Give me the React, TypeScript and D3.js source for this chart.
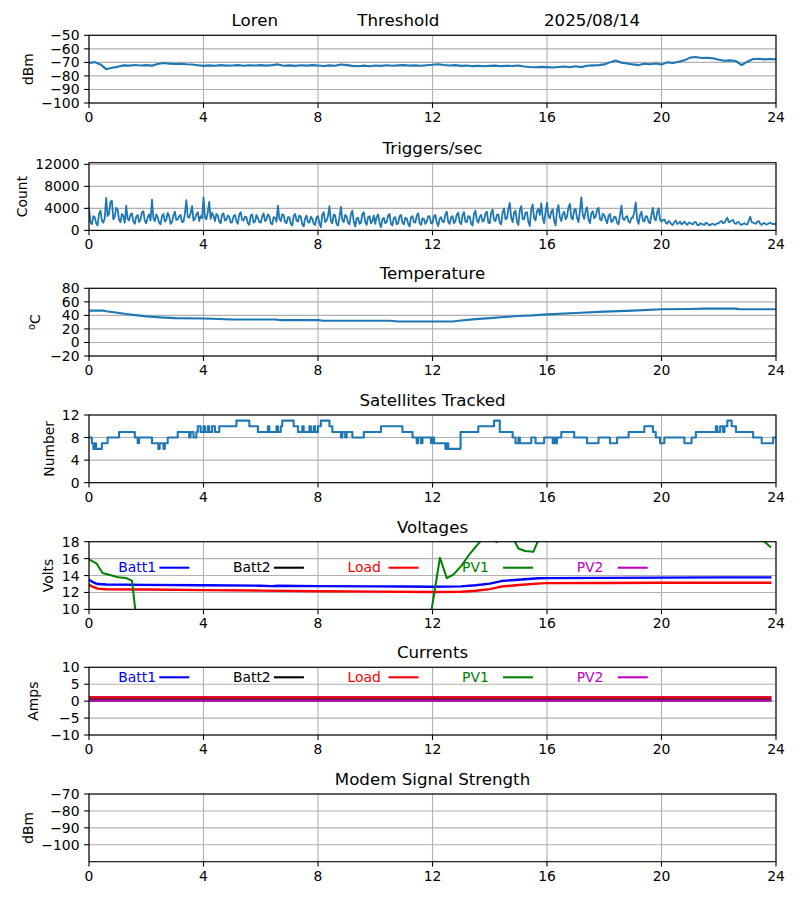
import React from "react";
import * as d3 from "d3";

// ---------- data ----------
const X_TICKS = [0, 4, 8, 12, 16, 20, 24];

const THRESH_STEP = 0.2;
const threshold = [
  -70.5, -69.8, -71.5, -75.0, -74.0, -73.3, -72.2, -72.4, -71.9, -72.3,
  -72.0, -72.4, -71.2, -70.5, -70.9, -71.2, -71.0, -71.4, -71.6, -72.1,
  -72.6, -72.2, -72.5, -72.0, -72.4, -72.3, -72.0, -72.5, -72.1, -72.3,
  -72.0, -72.4, -72.0, -71.5, -72.5, -72.2, -72.6, -72.1, -72.4, -72.0,
  -72.3, -72.7, -72.2, -72.5, -71.6, -72.0, -72.6, -72.9, -72.4, -72.8,
  -72.3, -72.6, -72.1, -72.5, -72.2, -72.0, -72.4, -72.2, -72.5, -72.1,
  -71.8, -71.4, -71.9, -72.3, -72.0, -72.6, -72.3, -72.8, -72.5, -72.9,
  -72.6, -72.4, -72.8, -72.5, -72.7, -72.3, -73.0, -73.4, -73.6, -73.3,
  -73.5, -73.8, -73.4, -73.0, -73.6, -72.8, -73.5, -72.5, -72.2, -72.0,
  -71.5, -70.0, -68.6, -70.2, -70.8, -71.5, -72.0, -71.0, -71.4, -70.8,
  -71.5, -70.0, -70.5, -69.5, -68.5, -66.5, -66.0, -66.8, -66.7, -67.0,
  -68.0, -68.8, -68.5, -69.0, -72.0, -69.5, -67.5, -67.3, -67.8, -67.5,
  -67.8,
];

const TRIG_STEP = 0.05;
const triggers = [
  4200, 1500, 1100, 2600, 2400, 1300, 900, 3000, 3600, 1800, 1400, 2200, 5900, 2600, 3000, 5200, 5400, 2000, 2500, 4100,
  3800, 1900, 1500, 3000, 2600, 1400, 4500, 2100, 1800, 2900, 3100, 1600, 1200, 2500, 2800, 1500, 2000, 3300, 3500, 1700,
  1300, 2400, 2900, 1800, 5600, 2200, 1700, 2900, 2400, 1400, 1100, 2600, 3000, 1600, 1900, 3200, 2600, 1200, 1500, 2700,
  3400, 1900, 2000, 2600, 2800, 1500, 1600, 3000, 5500, 2500, 2300, 3100, 4400, 1800, 2100, 2900, 3300, 1700, 2600, 2200,
  6000, 2400, 2000, 3300, 5200, 2100, 3200, 2600, 1700, 3000, 2700, 1600, 1300, 2900, 3100, 1800, 1900, 2700, 2500, 1400,
  1500, 2600, 2800, 1700, 1200, 2900, 3300, 1900, 1800, 2500, 2400, 1300, 1000, 2700, 2900, 1400, 1600, 2800, 2200, 1500,
  1400, 2500, 3100, 1700, 2000, 2900, 2600, 1300, 1100, 2400, 2300, 1600, 4500, 2200, 1700, 2900, 2800, 1500, 1300, 2400,
  2400, 1200, 900, 2600, 3000, 1800, 1600, 2700, 2500, 1100, 700, 2200, 2700, 1500, 1400, 2500, 2100, 1200, 1000, 2400,
  2600, 1300, 600, 2900, 3300, 1500, 1800, 2600, 4400, 1700, 1300, 2900, 2700, 1100, 900, 2400, 4300, 1900, 1500, 2800,
  2500, 1400, 1100, 2900, 3600, 1600, 700, 2200, 2300, 1200, 1400, 3000, 3300, 1500, 1000, 2400, 2600, 1300, 1700, 2700,
  1200, 2500, 2900, 1400, 600, 2000, 2300, 1300, 1500, 2700, 3000, 1200, 900, 2300, 2400, 1100, 1300, 2600, 2800, 1400,
  1100, 2300, 2200, 1200, 700, 2400, 2600, 1500, 1400, 2700, 3100, 1300, 1000, 2200, 2100, 1200, 1600, 2600, 2500, 1300,
  1300, 2600, 2800, 1400, 800, 2100, 2400, 1600, 1500, 2900, 3400, 1500, 1200, 2400, 2600, 1300, 1700, 2900, 3200, 1500,
  1100, 2800, 3300, 1600, 1500, 2600, 2500, 1200, 900, 3000, 3600, 1800, 1400, 2500, 2800, 1600, 1800, 3100, 3400, 1400,
  1300, 3200, 3800, 1900, 1700, 2800, 2900, 1400, 1100, 3300, 4000, 2000, 2200, 3800, 5000, 2300, 1500, 3200, 3600, 1600,
  1000, 3700, 4400, 2100, 2000, 3200, 3300, 1500, 800, 3900, 4700, 2200, 1800, 3500, 3900, 2800, 4900, 2300, 1300, 3400,
  5000, 2600, 2200, 3400, 3800, 1700, 900, 3600, 4600, 2400, 1700, 3000, 3400, 2000, 2500, 4200, 4800, 2300, 2000, 3700,
  3900, 2200, 1500, 3600, 6000, 2800, 2100, 3500, 4200, 2000, 1300, 3100, 3500, 2200, 2500, 3800, 4100, 2100, 1800, 3000,
  2800, 1900, 1300, 2600, 3000, 1500, 1700, 2500, 2400, 1400, 1100, 2800, 4500, 2100, 1900, 2400, 2600, 1600, 1400, 2300,
  2300, 3400, 5100, 2000, 1200, 2800, 3400, 1800, 1600, 2600, 2500, 1500, 1300, 2900, 4100, 2200, 1800, 3300, 4000, 1900,
  1600, 1900, 2000, 1400, 1200, 1700, 1500, 1100, 1000, 1500, 1800, 1200, 1300, 1600, 1100, 1300, 1600, 1200, 1000, 1400,
  1400, 1200, 1100, 1500, 1500, 1000, 900, 1300, 1200, 1100, 1000, 1400, 1300, 1000, 900, 1200, 1200, 1000, 1100, 1300,
  1300, 1600, 1700, 1300, 1400, 1900, 2300, 1500, 1600, 1800, 1900, 1300, 1200, 1500, 1500, 1100, 1000, 1200, 1300, 1100,
  1100, 1800, 2500, 1500, 1400, 1300, 1200, 1600, 1700, 1200, 1000, 1300, 1300, 1100, 1100, 1300, 1400, 1200, 1200, 1100,
  1300,
];

const tempTimes = [0, 0.5, 0.6, 1.0, 1.3, 1.7, 2.0, 2.5, 3.0, 4.0, 4.3, 5.0, 6.5, 6.7, 8.0, 8.2, 10.5, 10.8, 12.7, 13.0, 13.5, 14.0, 14.5, 15.0, 15.5, 16.0, 17.0, 18.0, 19.0, 20.0, 21.0, 21.5, 22.6, 22.7, 24.0];
const tempValues = [47, 47, 46, 44, 42, 40, 38.5, 37, 36, 35.5, 35, 34, 34, 33, 33, 32, 32, 31, 31, 32.5, 34.5, 36, 37.5, 39, 40, 41.5, 43.5, 45.5, 47, 49, 49.5, 50, 50, 49, 49];

const satTimes = [0, 0.1, 0.15, 0.2, 0.25, 0.45, 0.65, 1.05, 1.6, 1.7, 1.75, 2.2, 2.42, 2.47, 2.6, 2.65, 2.75, 3.1, 3.5, 3.55, 3.65, 3.75, 3.8, 3.9, 4.0, 4.05, 4.15, 4.2, 4.3, 4.4, 4.55, 5.15, 5.6, 5.9, 6.25, 6.3, 6.55, 6.6, 6.7, 6.75, 7.15, 7.3, 7.45, 7.5, 7.7, 7.75, 7.85, 7.9, 8.0, 8.1, 8.4, 8.5, 8.8, 8.85, 8.95, 9.0, 9.2, 9.6, 10.2, 10.95, 11.3, 11.45, 11.5, 11.6, 11.65, 11.95, 12.0, 12.05, 12.45, 12.5, 12.55, 12.98, 13.6, 14.15, 14.35, 14.8, 14.9, 15.0, 15.05, 15.45, 15.6, 15.9, 16.2, 16.25, 16.3, 16.35, 16.5, 16.95, 17.4, 17.8, 18.2, 18.45, 18.85, 19.4, 19.7, 19.8, 19.95, 20.1, 20.8, 21.05, 21.2, 21.9, 21.95, 22.05, 22.15, 22.2, 22.3, 22.45, 22.6, 23.2, 23.5, 23.9, 24];
const satValues = [8, 7, 6, 7, 6, 7, 8, 9, 8, 7, 8, 7, 6, 7, 6, 7, 8, 9, 8, 9, 8, 9, 10, 9, 10, 9, 10, 9, 10, 9, 10, 11, 10, 9, 10, 9, 10, 9, 10, 11, 10, 9, 10, 9, 10, 9, 10, 9, 10, 11, 10, 9, 8, 9, 8, 9, 8, 9, 10, 9, 8, 7, 8, 7, 8, 7, 8, 7, 6, 7, 6, 9, 10, 11, 9, 8, 7, 8, 7, 8, 7, 8, 7, 8, 7, 8, 9, 8, 7, 8, 7, 8, 9, 10, 9, 8, 7, 8, 7, 8, 9, 10, 9, 10, 9, 10, 11, 10, 9, 8, 7, 8, 8];

const voltBatt1Times = [0, 0.15, 0.3, 0.6, 2, 4, 6, 6.4, 6.6, 8, 10, 11, 12, 13, 13.5, 14, 14.4, 15, 15.7, 16, 18, 20, 22, 23.8];
const voltBatt1 = [13.5, 13.2, 13.0, 12.95, 12.9, 12.85, 12.8, 12.75, 12.8, 12.75, 12.72, 12.7, 12.68, 12.72, 12.85, 13.05, 13.35, 13.5, 13.68, 13.7, 13.72, 13.75, 13.78, 13.78];
const voltBatt2Times = [0, 23.8];
const voltBatt2 = [0, 0];
const voltLoadTimes = [0, 0.15, 0.3, 0.6, 2, 4, 6, 8, 10, 12, 13, 13.5, 14, 14.4, 15, 15.8, 16, 18, 20, 22, 23.8];
const voltLoad = [12.9, 12.65, 12.45, 12.38, 12.35, 12.28, 12.22, 12.15, 12.1, 12.05, 12.08, 12.2, 12.4, 12.7, 12.88, 13.08, 13.1, 13.12, 13.15, 13.15, 13.15];
const voltPV1Times = [0, 0.27, 0.47, 0.8, 1.02, 1.3, 1.5, 1.65, 2.0, 11.5, 11.95, 12.26, 12.5, 12.73, 13.02, 13.31, 13.66, 13.9, 14.1, 14.25, 14.45, 14.7, 14.88, 15.0, 15.23, 15.52, 15.7, 16, 18, 20, 22, 23.5, 23.8];
const voltPV1 = [15.9, 15.4, 14.3, 14.0, 13.8, 13.7, 13.4, 9.0, 0, 0, 9.6, 16.1, 13.7, 14.1, 15.2, 16.6, 18, 18.6, 18.3, 17.95, 18.6, 18.4, 18, 17.2, 16.9, 16.8, 18.2, 19, 20, 19.5, 19, 18.3, 17.4];
const voltPV2Times = [0, 23.8];
const voltPV2 = [0, 0];

const currTimes = [0, 23.8];
const currBatt1 = [1.1, 1.1];
const currBatt2 = [0.5, 0.5];
const currLoad = [1.1, 1.1];
const currPV1 = [0.15, 0.15];
const currPV2 = [0.15, 0.15];

const legendNames = ["Batt1", "Batt2", "Load", "PV1", "PV2"];
const legendColors = ["#0000ff", "#000000", "#ff0000", "#008000", "#bf00bf"];

// ---------- layout ----------
const LEFT = 89;
const RIGHT = 776;
const PH = 67.7;
const FONT = "DejaVu Sans, sans-serif";
const BLUE = "#1f77b4";
const GRID = "#b0b0b0";

const x = d3.scaleLinear().domain([0, 24]).range([LEFT, RIGHT]);

const fmt = (v: number) => (v < 0 ? "\u2212" + Math.abs(v) : String(v));

type Series = { t: number[]; v: number[]; color: string; width: number; step?: boolean };

function Panel(props: {
  id: string;
  top: number;
  domain: [number, number];
  ticks: number[];
  title: string;
  ylabel: React.ReactNode;
  ylabelX: number;
  series: Series[];
  legendY?: number;
}) {
  const { id, top, domain, ticks, title, ylabel, ylabelX, series, legendY } = props;
  const bottom = top + PH;
  const y = d3.scaleLinear().domain(domain).range([bottom, top]);
  const cx = (LEFT + RIGHT) / 2;
  return (
    <g>
      <defs>
        <clipPath id={"clip-" + id}>
          <rect x={LEFT} y={top} width={RIGHT - LEFT} height={PH} />
        </clipPath>
      </defs>
      {X_TICKS.map((t) => (
        <line key={"gx" + t} x1={x(t)} x2={x(t)} y1={top} y2={bottom} stroke={GRID} strokeWidth={1.1} />
      ))}
      {ticks.map((t) => (
        <line key={"gy" + t} x1={LEFT} x2={RIGHT} y1={y(t)} y2={y(t)} stroke={GRID} strokeWidth={1.1} />
      ))}
      <g clipPath={`url(#clip-${id})`}>
        {series.map((s, i) => {
          const pts = s.t.map((t, k) => [t, s.v[k]] as [number, number]);
          const gen = d3
            .line<[number, number]>()
            .x((d) => x(d[0]))
            .y((d) => y(d[1]))
            .curve(s.step ? d3.curveStepAfter : d3.curveLinear);
          return (
            <path
              key={i}
              d={gen(pts) || ""}
              fill="none"
              stroke={s.color}
              strokeWidth={s.width}
              strokeLinejoin="round"
              strokeLinecap="square"
            />
          );
        })}
      </g>
      {legendY !== undefined &&
        legendNames.map((n, i) => {
          const lx = 118.3 + i * 114.6;
          return (
            <g key={n}>
              <text x={lx} y={legendY + 4.5} fill={legendColors[i]} fontSize={13.9} fontFamily={FONT}>
                {n}
              </text>
              <line x1={lx + 41} x2={lx + 71} y1={legendY} y2={legendY} stroke={legendColors[i]} strokeWidth={2.1} />
            </g>
          );
        })}
      <rect x={LEFT} y={top} width={RIGHT - LEFT} height={PH} fill="none" stroke="#000" strokeWidth={1.1} />
      {X_TICKS.map((t) => (
        <g key={"xt" + t}>
          <line x1={x(t)} x2={x(t)} y1={bottom} y2={bottom + 4.9} stroke="#000" strokeWidth={1.1} />
          <text x={x(t)} y={bottom + 19} textAnchor="middle" fontSize={13.9} fontFamily={FONT} fill="#000">
            {fmt(t)}
          </text>
        </g>
      ))}
      {ticks.map((t) => (
        <g key={"yt" + t}>
          <line x1={LEFT - 4.9} x2={LEFT} y1={y(t)} y2={y(t)} stroke="#000" strokeWidth={1.1} />
          <text x={LEFT - 9.5} y={y(t) + 5} textAnchor="end" fontSize={13.9} fontFamily={FONT} fill="#000">
            {fmt(t)}
          </text>
        </g>
      ))}
      <text
        transform={`translate(${ylabelX},${(top + bottom) / 2}) rotate(-90)`}
        textAnchor="middle"
        fontSize={13.9}
        fontFamily={FONT}
        fill="#000"
      >
        {ylabel}
      </text>
      {title && (
        <text x={cx} y={top - 9} textAnchor="middle" fontSize={16.67} fontFamily={FONT} fill="#000">
          {title}
        </text>
      )}
    </g>
  );
}

export default function App() {
  const threshT = threshold.map((_, i) => i * THRESH_STEP);
  const trigT = triggers.map((_, i) => i * TRIG_STEP);
  const tops = [35.3, 162.7, 288.3, 415, 541.7, 667.3, 794];
  return (
    <svg
      width={800}
      height={900}
      viewBox="0 0 800 900"
      style={{ position: "absolute", left: 0, top: 0, background: "#fff" }}
    >
      <rect x={0} y={0} width={800} height={900} fill="#fff" />
      <text y={tops[0] - 9} fontSize={16.67} fontFamily={FONT} fill="#000">
        <tspan x={231.5}>Loren</tspan>
        <tspan x={357.3}>Threshold</tspan>
        <tspan x={544}>2025/08/14</tspan>
      </text>
      <Panel
        id="thr"
        top={tops[0]}
        domain={[-100, -50]}
        ticks={[-100, -90, -80, -70, -60, -50]}
        title=""
        ylabel="dBm"
        ylabelX={33.3}
        series={[{ t: threshT, v: threshold, color: BLUE, width: 2.1 }]}
      />
      <Panel
        id="trig"
        top={tops[1]}
        domain={[0, 12300]}
        ticks={[0, 4000, 8000, 12000]}
        title="Triggers/sec"
        ylabel="Count"
        ylabelX={26.7}
        series={[{ t: trigT, v: triggers, color: BLUE, width: 1.8 }]}
      />
      <Panel
        id="temp"
        top={tops[2]}
        domain={[-20, 80]}
        ticks={[-20, 0, 20, 40, 60, 80]}
        title="Temperature"
        ylabel={
          <>
            <tspan fontSize={9.7} dy={-5}>o</tspan>
            <tspan dy={5}>C</tspan>
          </>
        }
        ylabelX={40}
        series={[{ t: tempTimes, v: tempValues, color: BLUE, width: 2.1 }]}
      />
      <Panel
        id="sat"
        top={tops[3]}
        domain={[0, 12]}
        ticks={[0, 4, 8, 12]}
        title="Satellites Tracked"
        ylabel="Number"
        ylabelX={54}
        series={[{ t: satTimes, v: satValues, color: BLUE, width: 2.1, step: true }]}
      />
      <Panel
        id="volt"
        top={tops[4]}
        domain={[10, 18]}
        ticks={[10, 12, 14, 16, 18]}
        title="Voltages"
        ylabel="Volts"
        ylabelX={53.3}
        legendY={tops[4] + 26}
        series={[
          { t: voltBatt1Times, v: voltBatt1, color: legendColors[0], width: 2.4 },
          { t: voltBatt2Times, v: voltBatt2, color: legendColors[1], width: 2.4 },
          { t: voltLoadTimes, v: voltLoad, color: legendColors[2], width: 2.4 },
          { t: voltPV1Times, v: voltPV1, color: legendColors[3], width: 2.0 },
          { t: voltPV2Times, v: voltPV2, color: legendColors[4], width: 2.4 },
        ]}
      />
      <Panel
        id="curr"
        top={tops[5]}
        domain={[-10, 10]}
        ticks={[-10, -5, 0, 5, 10]}
        title="Currents"
        ylabel="Amps"
        ylabelX={38.3}
        legendY={tops[5] + 10}
        series={[
          { t: currTimes, v: currBatt1, color: legendColors[0], width: 2.2 },
          { t: currTimes, v: currBatt2, color: legendColors[1], width: 2.2 },
          { t: currTimes, v: currLoad, color: legendColors[2], width: 2.2 },
          { t: currTimes, v: currPV1, color: legendColors[3], width: 2.2 },
          { t: currTimes, v: currPV2, color: legendColors[4], width: 2.2 },
        ]}
      />
      <Panel
        id="modem"
        top={tops[6]}
        domain={[-110, -70]}
        ticks={[-100, -90, -80, -70]}
        title="Modem Signal Strength"
        ylabel="dBm"
        ylabelX={33.3}
        series={[]}
      />
    </svg>
  );
}
